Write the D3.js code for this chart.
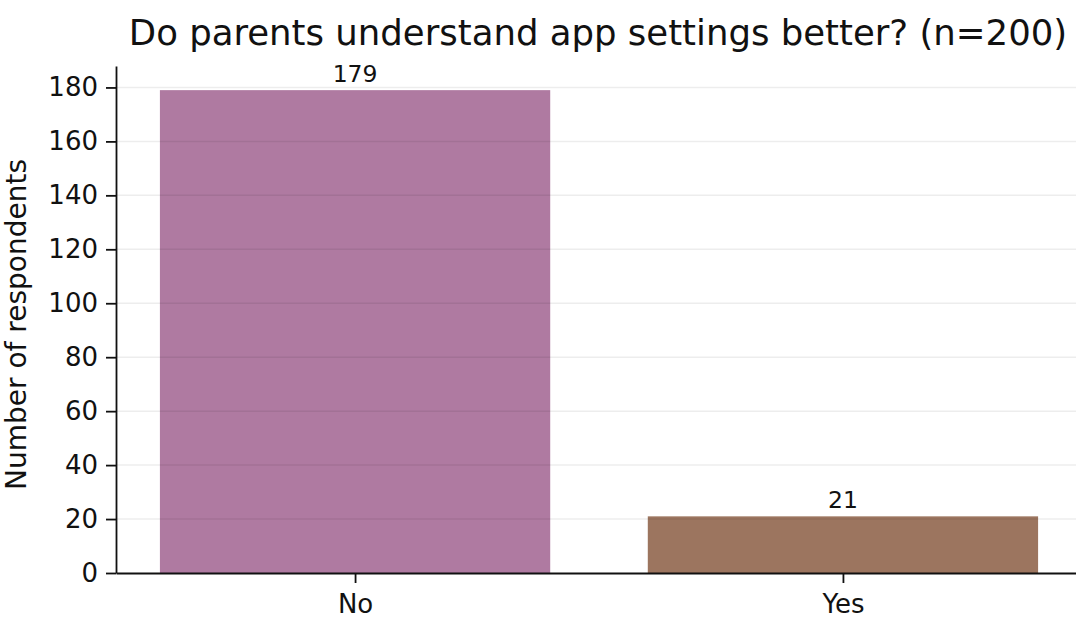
<!DOCTYPE html>
<html>
<head>
    <title>App settings</title>
    <script src="https://d3js.org/d3.v7.min.js"></script>
    <style>
        body { margin: 0; background: #fff; }
        svg text { font-family: "DejaVu Sans", sans-serif; fill: #111; }
    </style>
</head>
<body>
    <div id="vis"></div>
    <script>
        var categories = ["No", "Yes"];
        var counts = [179, 21];
        var barColors = ["#af7aa1", "#9c755f"];
        var yTicks = [0, 20, 40, 60, 80, 100, 120, 140, 160, 180];
        var title = "Do parents understand app settings better? (n=200)";

        var W = 1076, H = 618;
        var margin = {top: 66, left: 116, bottom: 45, right: 0};
        var height = H - margin.top - margin.bottom;

        var svg = d3.select("#vis").append("svg")
            .attr("width", W)
            .attr("height", H);

        // x in data units, like matplotlib bars: -0.49 .. 1.49
        var xScale = d3.scaleLinear()
            .domain([-0.49, 1.49])
            .range([margin.left, 1082]);
        var barW = xScale(0.8) - xScale(0);

        var yScale = d3.scaleLinear()
            .domain([0, 179 * 1.05])
            .range([H - margin.bottom, margin.top]);

        svg.selectAll("rect.bar")
            .data(counts)
            .enter()
            .append("rect")
                .attr("class", "bar")
                .attr("x", function(d, i) { return xScale(i) - barW / 2; })
                .attr("y", function(d) { return yScale(d); })
                .attr("width", barW)
                .attr("height", function(d) { return yScale(0) - yScale(d); })
                .attr("fill", function(d, i) { return barColors[i]; });

        // grid, faint, sits over the bars
        svg.append("g")
            .selectAll("line")
            .data(yTicks.slice(1))
            .enter()
            .append("line")
                .attr("x1", margin.left)
                .attr("x2", W)
                .attr("y1", function(d) { return yScale(d); })
                .attr("y2", function(d) { return yScale(d); })
                .style("stroke", "#000")
                .style("stroke-opacity", 0.07)
                .style("stroke-width", 1.5);

        svg.selectAll("text.val")
            .data(counts)
            .enter()
            .append("text")
                .attr("class", "val")
                .attr("x", function(d, i) { return xScale(i); })
                .attr("y", function(d) { return yScale(d) - 8; })
                .attr("text-anchor", "middle")
                .style("font-size", "23.5px")
                .text(function(d) { return d; });

        // y axis
        var yAxis = svg.append("g")
            .attr("transform", "translate(" + margin.left + ",0)")
            .call(d3.axisLeft(yScale).tickValues(yTicks).tickSize(10).tickPadding(8).tickSizeOuter(0));
        yAxis.selectAll("text").style("font-size", "26px");

        // x axis
        var xAxis = svg.append("g")
            .attr("transform", "translate(0," + yScale(0) + ")")
            .call(d3.axisBottom(xScale).tickValues([0, 1]).tickFormat(function(d) { return categories[d]; })
                .tickSize(10).tickPadding(12).tickSizeOuter(0));
        xAxis.selectAll("text").style("font-size", "26px");

        svg.selectAll(".domain").style("stroke", "#111").style("stroke-width", 1.8);
        svg.selectAll(".tick line").style("stroke", "#111").style("stroke-width", 1.8);

        svg.append("text")
            .attr("transform", "rotate(-90)")
            .attr("x", -(margin.top + height / 2) - 5)
            .attr("y", 26)
            .attr("text-anchor", "middle")
            .style("font-size", "28px")
            .text("Number of respondents");

        svg.append("text")
            .attr("x", 598)
            .attr("y", 45)
            .attr("text-anchor", "middle")
            .style("font-size", "35.5px")
            .text(title);
    </script>
</body>
</html>
